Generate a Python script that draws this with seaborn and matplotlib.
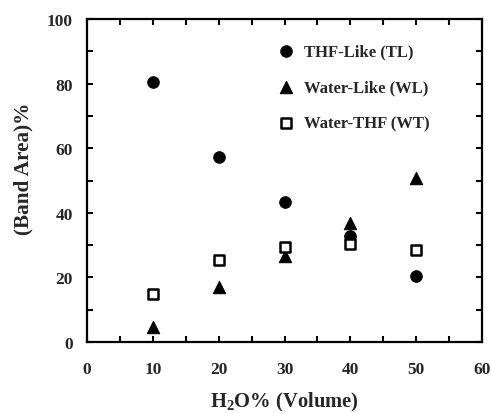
import matplotlib
matplotlib.use("Agg")
import matplotlib.pyplot as plt
import seaborn as sns
import pandas as pd
from matplotlib.ticker import MultipleLocator

water = [10, 20, 30, 40, 50]
thf_like = [80.4, 57.4, 43.3, 32.9, 20.5]
water_like = [4.5, 16.9, 26.7, 36.8, 50.8]
water_thf = [14.9, 25.5, 29.3, 30.3, 28.5]
labels = ["THF-Like (TL)", "Water-Like (WL)", "Water-THF (WT)"]

sns.set_theme(style="white")
plt.rcParams["font.family"] = ["Liberation Serif", "DejaVu Serif"]
plt.rcParams["font.weight"] = "bold"
plt.rcParams["mathtext.fontset"] = "custom"
plt.rcParams["mathtext.rm"] = "Liberation Serif:bold"
plt.rcParams["mathtext.bf"] = "Liberation Serif:bold"

df = pd.DataFrame({
    "x": water * 3,
    "y": thf_like + water_like + water_thf,
    "series": [labels[0]] * 5 + [labels[1]] * 5 + [labels[2]] * 5,
})

fig = plt.figure(figsize=(4.91, 4.14), dpi=100)
ax = fig.add_axes([0.177, 0.1715, 0.805, 0.78])

sns.scatterplot(data=df[df.series == labels[0]], x="x", y="y", marker="o", s=70,
                color="black", edgecolor="black", label=labels[0], ax=ax)
sns.scatterplot(data=df[df.series == labels[1]], x="x", y="y", marker="^", s=80,
                color="black", edgecolor="black", label=labels[1], ax=ax)
sns.scatterplot(data=df[df.series == labels[2]], x="x", y="y", marker="s", s=58,
                facecolor="white", edgecolor="black", linewidth=1.8, label=labels[2], ax=ax)

ax.set_xlim(0, 60)
ax.set_ylim(0, 100)
ax.xaxis.set_major_locator(MultipleLocator(10))
ax.xaxis.set_minor_locator(MultipleLocator(5))
ax.yaxis.set_major_locator(MultipleLocator(20))
ax.yaxis.set_minor_locator(MultipleLocator(10))
ax.tick_params(which="both", direction="in", top=True, right=True, bottom=True, left=True,
               length=4, width=1.5, color="black")
ax.tick_params(axis="x", which="major", pad=14, labelsize=12.5)
ax.tick_params(axis="y", which="major", pad=10, labelsize=12.5)
for t in ax.get_xticklabels() + ax.get_yticklabels():
    t.set_fontweight("bold")
for sp in ax.spines.values():
    sp.set_linewidth(1.6)
    sp.set_color("black")

ax.set_xlabel(r"H$_2$O% (Volume)", fontsize=14.8, fontweight="bold", labelpad=9)
ax.set_ylabel("(Band Area)%", fontsize=15.3, fontweight="bold")
ax.yaxis.set_label_coords(-0.135, 0.54)

leg = ax.legend(loc="upper right", frameon=False, prop={"weight": "bold", "size": 12},
                labelspacing=1.2, handletextpad=0.1, borderaxespad=0.5,
                bbox_to_anchor=(0.905, 0.97))

fig.savefig("out.png", dpi=100)
